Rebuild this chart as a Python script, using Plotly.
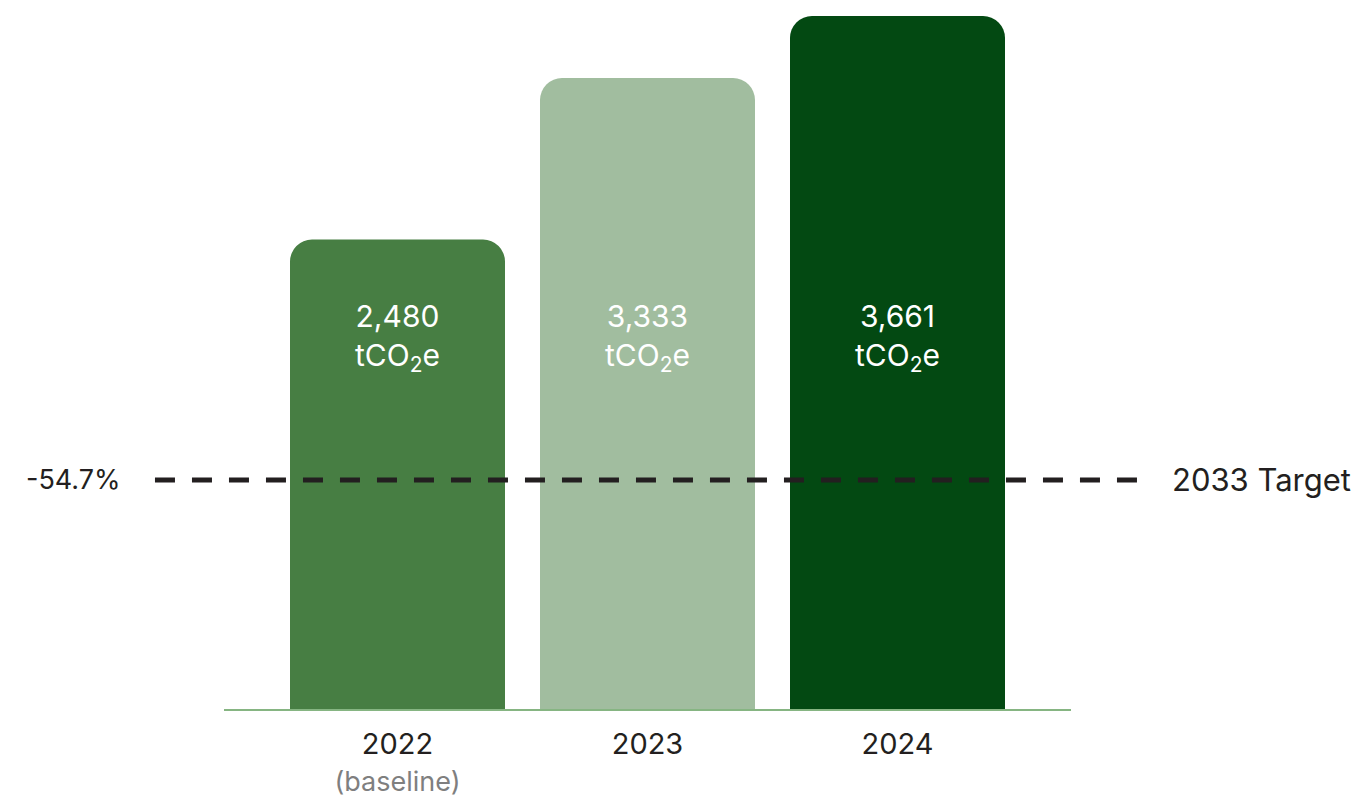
import plotly.graph_objects as go

# Emissions by year (tCO2e)
years = ["2022", "2023", "2024"]
year_labels = [
    "2022<br><span style='color:#7f7f7f;font-size:27px'>(baseline)</span>",
    "2023",
    "2024",
]
emissions = [2480, 3333, 3661]
bar_colors = ["#477e43", "#a1bd9f", "#034912"]

# 2033 reduction target line
target_label = "-54.7%"
target_name = "2033 Target"
target_level = 1210

label_level = 1960

fig = go.Figure()
fig.add_trace(go.Bar(
    x=years,
    y=emissions,
    marker=dict(color=bar_colors, cornerradius=22, line=dict(width=0)),
    hoverinfo="skip",
))

for i, v in enumerate(emissions):
    fig.add_annotation(
        x=i, y=label_level, xref="x", yref="y",
        text=f"{v:,}<br>tCO<sub>2</sub>e",
        showarrow=False,
        font=dict(family="Inter", size=30, color="white"),
        align="center",
    )

fig.add_shape(
    type="line", xref="paper", yref="y",
    x0=-0.0815, x1=1.0874, y0=target_level, y1=target_level,
    line=dict(color="#231f20", width=5, dash="20px,17px"),
)
fig.add_annotation(
    x=-0.178, y=target_level, xref="paper", yref="y",
    text=target_label, showarrow=False, xanchor="center",
    font=dict(family="Inter", size=27, color="#231f20"),
)
fig.add_annotation(
    x=1.1169, y=target_level, xref="paper", yref="y",
    text=target_name, showarrow=False, xanchor="left",
    font=dict(family="Inter", size=31, color="#231f20"),
)

fig.update_layout(
    width=1361, height=796,
    margin=dict(l=224, r=290, t=16, b=87),
    plot_bgcolor="white", paper_bgcolor="white",
    bargap=0.14,
    showlegend=False,
    font=dict(family="Inter", size=28, color="#231f20"),
)
fig.update_xaxes(
    type="category",
    range=[-0.694, 2.694],
    tickmode="array", tickvals=years, ticktext=year_labels,
    showline=True, linecolor="#86b582", linewidth=1.5,
    ticks="outside", ticklen=8, tickcolor="rgba(0,0,0,0)",
    showgrid=False, zeroline=False, automargin=False,
    tickfont=dict(family="Inter", size=29, color="#231f20"),
)
fig.update_yaxes(range=[0, 3661], visible=False, showgrid=False, zeroline=False)

fig.write_html("out.html")
